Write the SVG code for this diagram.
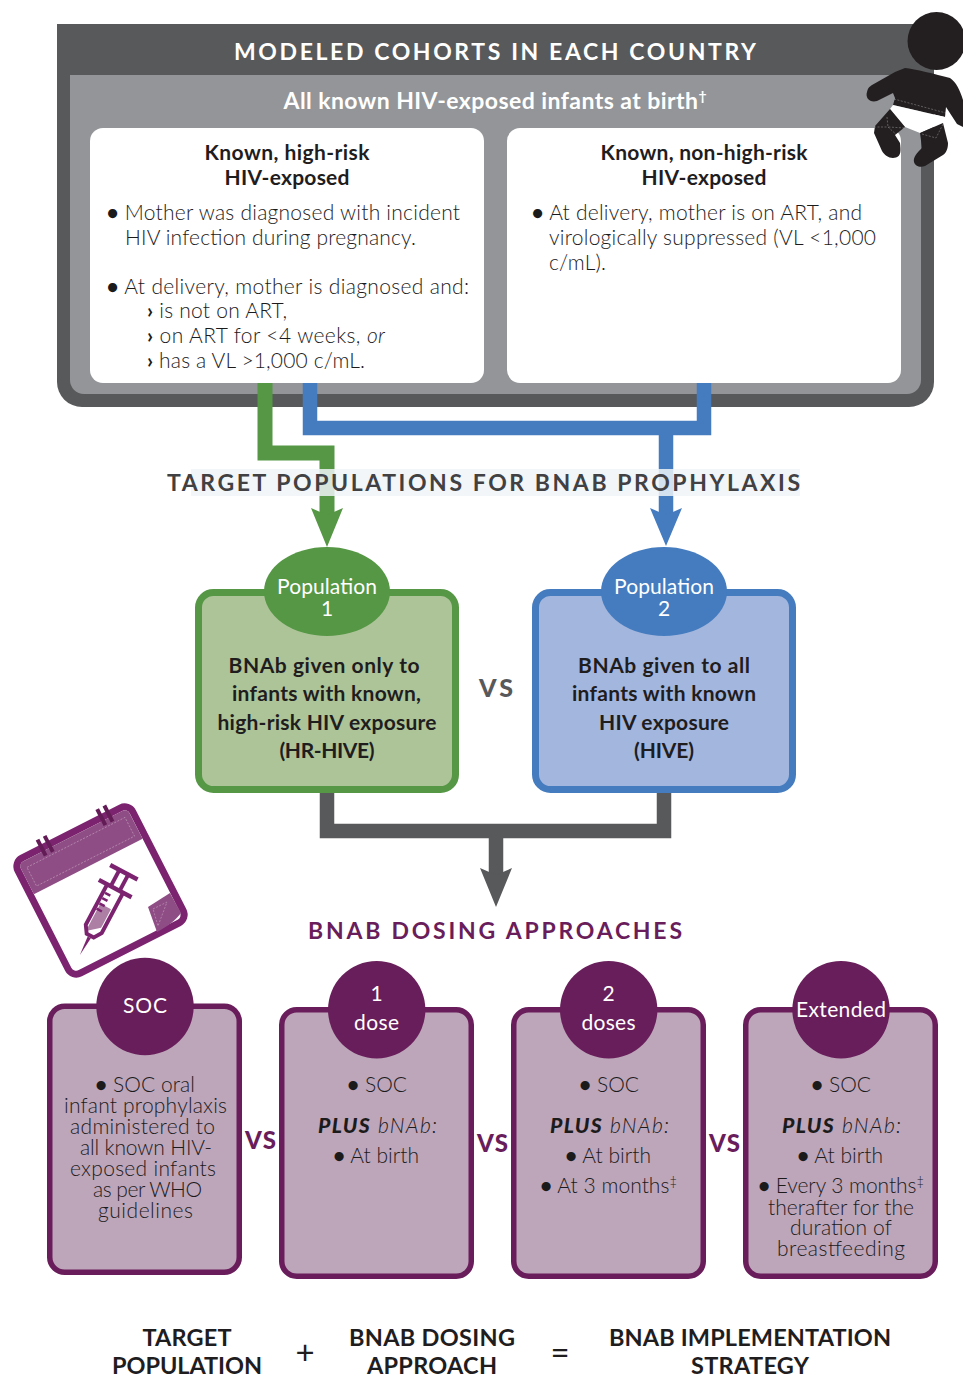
<svg xmlns="http://www.w3.org/2000/svg" width="963" height="1375" viewBox="0 0 963 1375">
<style>
text{font-family:Lato,"Open Sans","Liberation Sans",sans-serif;fill:#1c1b1c}
.h{font-weight:700;font-size:23px;text-anchor:middle}
.b{font-weight:700;font-size:21px;text-anchor:middle;fill:#1f1d1e}
.r{font-size:21px;font-weight:300}
.c{font-size:21px;font-weight:300;text-anchor:middle}
.w{fill:#fff;font-size:21px;font-weight:400;text-anchor:middle}
.vs{font-weight:900;font-size:25px;fill:#58595b;text-anchor:middle}
.vp{font-weight:900;font-size:24px;fill:#6a1d5b;text-anchor:middle}
.mk{font-weight:700}
.t{font-weight:700;font-size:23.500px;text-anchor:middle;fill:#1f1d1e}
.op{font-weight:400;font-size:33px;text-anchor:middle;fill:#1f1d1e}
.pbox{fill:#bda6ba;stroke:#6a1d5b;stroke-width:5.500}
.pc{fill:#681e5a}
.dash{fill:none;stroke:#fff;stroke-opacity:.4;stroke-width:.7;stroke-dasharray:2 1.5}
</style>
<g id="frame">
<path d="M57 24H934V382a25 25 0 0 1-25 25H82a25 25 0 0 1-25-25Z" fill="#58595b"/>
<path d="M70 75H921V380a14 14 0 0 1-14 14H84a14 14 0 0 1-14-14Z" fill="#939598"/>
<text class="h" x="495" y="60" style="fill:#fff" textLength="522">MODELED COHORTS IN EACH COUNTRY</text>
<text class="h" x="495" y="109" style="fill:#fff" textLength="423">All known HIV-exposed infants at birth<tspan font-size="14" dy="-8">†</tspan></text>
</g>
<g id="box-high-risk">
<rect x="90" y="128" width="394" height="255" rx="13" fill="#fff"/>
<text class="b" x="287" y="160" textLength="165">Known, high-risk</text>
<text class="b" x="287" y="185" textLength="125">HIV-exposed</text>
<text class="r" x="106.500" y="220" textLength="353.500"><tspan class="mk">•</tspan> Mother was diagnosed with incident</text>
<text class="r" x="125" y="245" textLength="291">HIV infection during pregnancy.</text>
<text class="r" x="106.500" y="294" textLength="362.500"><tspan class="mk">•</tspan> At delivery, mother is diagnosed and:</text>
<text class="r" x="147" y="318" textLength="140"><tspan class="mk">›</tspan> is not on ART,</text>
<text class="r" x="147" y="343" textLength="238"><tspan class="mk">›</tspan> on ART for &lt;4 weeks, <tspan font-style="italic">or</tspan></text>
<text class="r" x="147" y="368" textLength="218"><tspan class="mk">›</tspan> has a VL &gt;1,000 c/mL.</text>
</g>
<g id="box-non-high-risk">
<rect x="507" y="128" width="394" height="255" rx="13" fill="#fff"/>
<text class="b" x="704" y="160" textLength="207">Known, non-high-risk</text>
<text class="b" x="704" y="185" textLength="125">HIV-exposed</text>
<text class="r" x="531.500" y="220" textLength="330.500"><tspan class="mk">•</tspan> At delivery, mother is on ART, and</text>
<text class="r" x="549" y="245" textLength="327">virologically suppressed (VL &lt;1,000</text>
<text class="r" x="549" y="270" textLength="57">c/mL).</text>
</g>
<g id="baby">
<circle cx="936.500" cy="41" r="29" fill="#231f20"/>
<path d="M905 68C915 69 935 74 950 78C956 82 960 90 963 100V127L957 124L946 107L945 117L893 105L895 98L893 93L877 101C870 103 865 98 867 92C868 88 869 87 872 85L895 72Z" fill="#231f20"/>
<path d="M893 105L945 117L943 123L920 133L905 127L890 109Z" fill="#fff"/>
<path d="M890 109L905 127L895 135L900 143C901 151 901 156 896 157.500C890 159 885 156 882 151L874 133L875 126Z" fill="#231f20"/>
<path d="M920 133L943 123L948 143C948 149 946 153 943 155L925 166C920 168 915 166 914 162C913 157 917 153 922 148Z" fill="#231f20"/>
<path class="dash" d="M894 99L946 113M887 117L888 127L905 128M874 127L888 127L899 137M922 134L936 138L943 124"/>
</g>
<g id="connectors">
<path d="M265 383V453H327V518" fill="none" stroke="#559744" stroke-width="15"/>
<path d="M311 508L327 515L343 508L327 547Z" fill="#559744"/>
<path d="M310 383V428H704V383M666 428V518" fill="none" stroke="#447cbf" stroke-width="14.500"/>
<path d="M650 508L666 515L682 508L666 546Z" fill="#447cbf"/>
<path d="M327 790V831H664V790M496 831V878" fill="none" stroke="#58595b" stroke-width="14.500"/>
<path d="M480 868L496 875L512 868L496 907Z" fill="#58595b"/>
</g>
<g id="title-target">
<rect x="191" y="469" width="609" height="27" fill="#fff" fill-opacity=".68"/>
<rect x="191" y="469" width="609" height="27" fill="#e6eef3" fill-opacity=".5"/>
<text class="h" x="483.500" y="491" style="fill:#414042" textLength="633">TARGET POPULATIONS FOR BNAB PROPHYLAXIS</text>
</g>
<g id="population-1">
<rect x="198.500" y="592.500" width="257" height="197" rx="15" fill="#adc499" stroke="#559744" stroke-width="7"/>
<ellipse cx="327" cy="591.500" rx="63" ry="44.500" fill="#559744"/>
<text class="w" x="327" y="594" textLength="100">Population</text>
<text class="w" x="327" y="616">1</text>
<text class="b" x="324" y="673" textLength="191">BNAb given only to</text>
<text class="b" x="326.500" y="701" textLength="189">infants with known,</text>
<text class="b" x="327" y="730" textLength="219">high-risk HIV exposure</text>
<text class="b" x="327" y="758" textLength="95">(HR-HIVE)</text>
</g>
<g id="population-2">
<rect x="535.500" y="592.500" width="257" height="197" rx="15" fill="#a3b6dd" stroke="#447cbf" stroke-width="7"/>
<ellipse cx="664" cy="591.500" rx="63" ry="44.500" fill="#447cbf"/>
<text class="w" x="664" y="594" textLength="100">Population</text>
<text class="w" x="664" y="616">2</text>
<text class="b" x="664" y="673" textLength="172">BNAb given to all</text>
<text class="b" x="664" y="701" textLength="184">infants with known</text>
<text class="b" x="664" y="730" textLength="130">HIV exposure</text>
<text class="b" x="664" y="758" textLength="60">(HIVE)</text>
</g>
<text class="vs" x="496" y="697" textLength="34">VS</text>
<g id="calendar">
<g transform="translate(100.500 890.500) rotate(-27)">
<rect x="-64.500" y="-64.500" width="129" height="129" rx="9" fill="#fff" stroke="#7c2370" stroke-width="7"/>
<path d="M-61 -27V-56a5 5 0 0 1 5-5H56a5 5 0 0 1 5 5V-27Z" fill="#8f4d85"/>
<rect x="-55" y="-54" width="110" height="21" class="dash"/>
<path d="M-35 -74H-31V-56H-35ZM-27 -74H-23V-56H-27ZM32 -74H36V-56H32ZM40 -74H44V-56H40Z" fill="#641c57"/>
</g>
<path d="M148 907L170 893L181 913C176 920 168 926 157 932Z" fill="#8f4d85"/>
<path class="dash" d="M153 909L167 902L158 926Z"/>
<g transform="translate(124 872) rotate(28)" fill="#7c2370">
<rect x="-15.500" y="-2" width="31" height="4.500"/>
<rect x="-7" y="0" width="4" height="19"/><rect x="3" y="0" width="4" height="19"/>
<rect x="-18.500" y="16.500" width="37" height="4.500"/>
<path d="M-6 39H6V60L-6 70Z" fill="#ad7fa5"/>
<path d="M-11 20H11V65L5 74H-5L-11 65ZM-7 20V64L-3 70H3L7 64V20Z" fill-rule="evenodd"/>
<path d="M-1.800 74H1.800L0 94Z"/>
<path d="M-7 26H-1V28.500H-7ZM-7 32H-1V34.500H-7ZM-7 38H-1V40.500H-7ZM-7 44H-1V46.500H-7Z"/>
</g>
</g>
<text class="h" x="495" y="939" style="fill:#6a1d5b" textLength="374">BNAB DOSING APPROACHES</text>
<g id="dose-soc">
<rect x="49.750" y="1006.250" width="189.500" height="266" rx="15" class="pbox"/>
<circle cx="145" cy="1006.500" r="48.700" class="pc"/>
<text class="w" x="145" y="1013" textLength="44">SOC</text>
<text class="c" x="145" y="1092" textLength="100"><tspan class="mk">•</tspan> SOC oral</text>
<text class="c" x="145.500" y="1113" textLength="163">infant prophylaxis</text>
<text class="c" x="142.500" y="1134" textLength="145">administered to</text>
<text class="c" x="146" y="1155" textLength="132">all known HIV-</text>
<text class="c" x="143" y="1176" textLength="146">exposed infants</text>
<text class="c" x="147.500" y="1197" textLength="109">as per WHO</text>
<text class="c" x="145.500" y="1218" textLength="95">guidelines</text>
</g>
<text class="vp" x="260.500" y="1149" textLength="31">VS</text>
<g id="dose-1">
<rect x="281.750" y="1009.750" width="189.500" height="266.500" rx="15" class="pbox"/>
<circle cx="376.700" cy="1009.800" r="48.700" class="pc"/>
<text class="w" x="376.500" y="1001">1</text>
<text class="w" x="376.500" y="1030" textLength="45">dose</text>
<text class="c" x="377" y="1092" textLength="60"><tspan class="mk">•</tspan> SOC</text>
<text class="c" x="377.500" y="1133" textLength="119"><tspan font-weight="900" font-style="italic">PLUS</tspan> <tspan font-style="italic">bNAb:</tspan></text>
<text class="c" x="376" y="1163" textLength="86"><tspan class="mk">•</tspan> At birth</text>
</g>
<text class="vp" x="492.500" y="1152" textLength="31">VS</text>
<g id="dose-2">
<rect x="513.750" y="1009.750" width="189.500" height="266.500" rx="15" class="pbox"/>
<circle cx="608.700" cy="1009.800" r="48.700" class="pc"/>
<text class="w" x="608.500" y="1001">2</text>
<text class="w" x="608.500" y="1030" textLength="54">doses</text>
<text class="c" x="609" y="1092" textLength="60"><tspan class="mk">•</tspan> SOC</text>
<text class="c" x="609.500" y="1133" textLength="119"><tspan font-weight="900" font-style="italic">PLUS</tspan> <tspan font-style="italic">bNAb:</tspan></text>
<text class="c" x="608" y="1163" textLength="86"><tspan class="mk">•</tspan> At birth</text>
<text class="c" x="608.500" y="1193" textLength="137"><tspan class="mk">•</tspan> At 3 months<tspan font-size="13" dy="-7">‡</tspan></text>
</g>
<text class="vp" x="724.500" y="1152" textLength="31">VS</text>
<g id="dose-extended">
<rect x="745.750" y="1009.750" width="189.500" height="266.500" rx="15" class="pbox"/>
<circle cx="841" cy="1009.800" r="48.700" class="pc"/>
<text class="w" x="841" y="1017" textLength="90">Extended</text>
<text class="c" x="841" y="1092" textLength="60"><tspan class="mk">•</tspan> SOC</text>
<text class="c" x="841.500" y="1133" textLength="119"><tspan font-weight="900" font-style="italic">PLUS</tspan> <tspan font-style="italic">bNAb:</tspan></text>
<text class="c" x="840" y="1163" textLength="86"><tspan class="mk">•</tspan> At birth</text>
<text class="c" x="841" y="1193" textLength="166"><tspan class="mk">•</tspan> Every 3 months<tspan font-size="13" dy="-7">‡</tspan></text>
<text class="c" x="841" y="1215" textLength="146">therafter for the</text>
<text class="c" x="841" y="1235" textLength="102">duration of</text>
<text class="c" x="841" y="1256" textLength="128">breastfeeding</text>
</g>
<g id="equation">
<text class="t" x="187" y="1346" textLength="89">TARGET</text>
<text class="t" x="187" y="1374" textLength="150">POPULATION</text>
<text class="op" x="305" y="1364">+</text>
<text class="t" x="432" y="1346" textLength="166">BNAB DOSING</text>
<text class="t" x="432" y="1374" textLength="130">APPROACH</text>
<text class="op" x="560" y="1364">=</text>
<text class="t" x="750" y="1346" textLength="282">BNAB IMPLEMENTATION</text>
<text class="t" x="750" y="1374" textLength="118">STRATEGY</text>
</g>
</svg>
